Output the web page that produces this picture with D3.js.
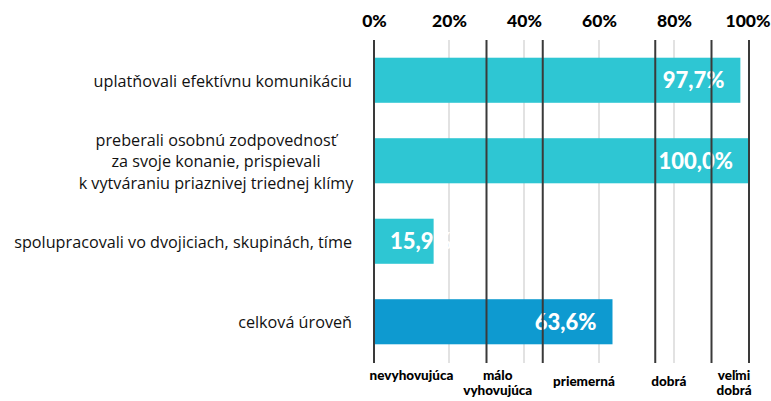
<!DOCTYPE html>
<html>
<head>
<meta charset="utf-8">
<script src="https://cdn.jsdelivr.net/npm/d3@7"></script>
<style>
  body { margin: 0; background: #fff; }
  .cat { font-family: "Open Sans", sans-serif; font-size: 16.2px; fill: #111; }
  .heavy { font-family: "Lato", sans-serif; font-weight: 900; }
</style>
</head>
<body>
<svg id="chart" width="771" height="401"></svg>
<script>
// categories (label lines) and values
const categories = [
  ["uplatňovali efektívnu komunikáciu"],
  ["preberali osobnú zodpovednosť", "za svoje konanie, prispievali", "k vytváraniu priaznivej triednej klímy"],
  ["spolupracovali vo dvojiciach, skupinách, tíme "],
  ["celková úroveň"]
];
const values = [97.7, 100.0, 15.9, 63.6];
const valueLabels = ["97,7%", "100,0%", "15,9%", "63,6%"];
const ticks = [0, 20, 40, 60, 80, 100];
// level boundaries and level names (center of name in %)
const levelBounds = [0, 30, 45, 75, 90, 100];
const levelNames = [["nevyhovujúca"], ["málo", "vyhovujúca"], ["priemerná"], ["dobrá"], ["veľmi", "dobrá"]];
const levelCenters = [10, 33, 56, 78.6, 96];

const svg = d3.select("#chart");
const x = d3.scaleLinear().domain([0, 100]).range([374, 749]);
const y = d3.scaleBand().domain(d3.range(categories.length)).range([40, 362])
            .paddingInner(0.44).paddingOuter(0.22);

// top axis
const axis = svg.append("g")
  .attr("transform", "translate(0,27)")
  .call(d3.axisTop(x).tickValues(ticks).tickSize(0).tickPadding(0).tickFormat(d => d + "%"));
axis.select(".domain").remove();
axis.selectAll("text").attr("class", "heavy").style("font-size", "17.5px").attr("fill", "#000");
// keep the last label inside the picture
axis.selectAll(".tick").filter(d => d === 100).select("text").attr("dx", -1.5);

// light gridlines
svg.append("g").selectAll("line")
  .data(ticks.filter(d => d > 0 && d < 100))
  .enter().append("line")
  .attr("x1", d => x(d)).attr("x2", d => x(d))
  .attr("y1", 40).attr("y2", 363)
  .attr("stroke", "#d9d9d9").attr("stroke-width", 1.5);

// bars
svg.append("g").selectAll("rect")
  .data(values)
  .enter().append("rect")
  .attr("x", x(0))
  .attr("y", (d, i) => y(i))
  .attr("width", d => x(d) - x(0))
  .attr("height", y.bandwidth())
  .attr("fill", (d, i) => i === values.length - 1 ? "#0e9ad0" : "#2ec6d3");

// value labels
svg.append("g").selectAll("text")
  .data(values)
  .enter().append("text")
  .attr("class", "heavy")
  .style("font-size", "22px")
  .attr("fill", "#fff")
  .attr("y", (d, i) => y(i) + y.bandwidth() / 2)
  .attr("dy", "0.36em")
  .attr("x", d => (x(d) - x(0) > 90) ? x(d) - 16 : x(0) + 16)
  .attr("text-anchor", d => (x(d) - x(0) > 90) ? "end" : "start")
  .text((d, i) => valueLabels[i]);

// level boundary lines
svg.append("g").selectAll("line")
  .data(levelBounds)
  .enter().append("line")
  .attr("x1", d => x(d)).attr("x2", d => x(d))
  .attr("y1", 40).attr("y2", 363)
  .attr("stroke", "#3a3a3a").attr("stroke-width", 2);

// category labels
const cat = svg.append("g").selectAll("text")
  .data(categories)
  .enter().append("text")
  .attr("class", "cat")
  .attr("text-anchor", d => d.length > 1 ? "middle" : "end")
  .attr("x", d => d.length > 1 ? 216 : 352)
  .attr("y", (d, i) => y(i) + y.bandwidth() / 2 + 1);
cat.selectAll("tspan")
  .data(d => d.map((t, j) => ({t: t, j: j, n: d.length})))
  .enter().append("tspan")
  .attr("x", function() { return this.parentNode.getAttribute("x"); })
  .attr("dy", d => d.j === 0 ? ((-(d.n - 1) / 2) * 21.5 + 5.5) : 21.5)
  .text(d => d.t);

// level names
const lv = svg.append("g").selectAll("text")
  .data(levelNames)
  .enter().append("text")
  .attr("class", "heavy")
  .style("font-size", "13.5px")
  .attr("text-anchor", "middle")
  .attr("x", (d, i) => x(levelCenters[i]))
  .attr("y", (d, i) => (i === 2 || i === 3) ? 386 : 380);
lv.selectAll("tspan")
  .data(d => d)
  .enter().append("tspan")
  .attr("x", function() { return this.parentNode.getAttribute("x"); })
  .attr("dy", (d, j) => j === 0 ? 0 : 15)
  .text(d => d);
</script>
</body>
</html>
